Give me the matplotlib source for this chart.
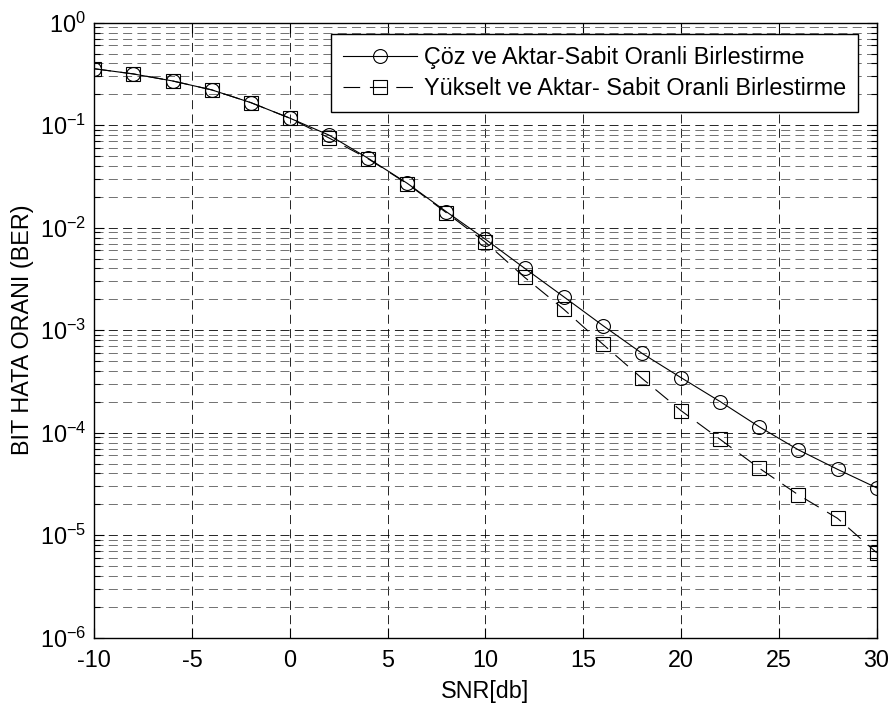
import numpy as np
import matplotlib
matplotlib.use("Agg")
import matplotlib.pyplot as plt
from matplotlib.ticker import FixedLocator, NullFormatter

# ---------------------------------------------------------
# data
snr_db = [-10, -8, -6, -4, -2, 0, 2, 4, 6, 8, 10,
          12, 14, 16, 18, 20, 22, 24, 26, 28, 30]
ber_df = [0.355, 0.316, 0.270, 0.221, 0.166, 0.117, 0.080, 0.0475, 0.0271, 0.0143, 0.0077,
          4.02e-3, 2.12e-3, 1.11e-3, 5.95e-4, 3.44e-4, 2.01e-4, 1.14e-4, 6.8e-5, 4.39e-5, 2.9e-5]
ber_af = [0.355, 0.316, 0.270, 0.221, 0.166, 0.117, 0.075, 0.0470, 0.0268, 0.0140, 0.0072,
          3.28e-3, 1.60e-3, 7.3e-4, 3.39e-4, 1.64e-4, 8.6e-5, 4.5e-5, 2.47e-5, 1.46e-5, 6.75e-6]
labels = ["Çöz ve Aktar-Sabit Oranli Birlestirme",
          "Yükselt ve Aktar- Sabit Oranli Birlestirme"]
x_ticks = [-10, -5, 0, 5, 10, 15, 20, 25, 30]
y_exps = [-6, -5, -4, -3, -2, -1, 0]

plt.rcParams['font.family'] = ['Liberation Sans', 'DejaVu Sans']
plt.rcParams['mathtext.fontset'] = 'custom'
plt.rcParams['mathtext.rm'] = 'Liberation Sans'
plt.rcParams['font.size'] = 16.8
plt.rcParams['lines.scale_dashes'] = False


def main():
    fig = plt.figure(figsize=(8.93, 7.08), dpi=100)
    ax = fig.add_axes([0.1056, 0.0993, 0.8761, 0.8687])

    ax.semilogy(snr_db, ber_df, color='black', linestyle='-', linewidth=0.8,
                marker='o', markersize=10, markerfacecolor='none',
                markeredgecolor='black', markeredgewidth=0.8, label=labels[0])
    ax.semilogy(snr_db, ber_af, color='black', linestyle=(0, (12, 7)), linewidth=0.8,
                marker='s', markersize=10, markerfacecolor='none',
                markeredgecolor='black', markeredgewidth=0.8, label=labels[1])

    ax.set_xlim(-10, 30)
    ax.set_ylim(1e-6, 1)
    ax.set_xticks(x_ticks)
    ax.set_xticklabels([str(t) for t in x_ticks])

    major = [10.0 ** e for e in y_exps]
    minor = [m * 10.0 ** e for e in y_exps[:-1] for m in range(2, 10)]
    ax.set_yticks(major)
    ax.set_yticklabels([r'$\mathregular{10^{%d}}$' % e for e in y_exps])
    ax.yaxis.set_minor_locator(FixedLocator(minor))
    ax.yaxis.set_minor_formatter(NullFormatter())

    ax.tick_params(which='both', direction='in', top=True, right=True)
    ax.tick_params(which='major', length=7, width=0.8, pad=6)
    ax.tick_params(which='minor', length=4, width=0.8)
    ax.tick_params(axis='x', pad=8)

    ax.grid(True, which='major', color='black', linestyle=(0, (6.5, 3.8)), linewidth=0.6)
    ax.grid(True, which='minor', axis='y', color='0.35', linestyle=(0, (6.5, 3.8)), linewidth=0.6)
    ax.set_axisbelow(True)
    for s in ax.spines.values():
        s.set_linewidth(1.0)

    ax.set_xlabel('SNR[db]', labelpad=6)
    ax.set_ylabel('BIT HATA ORANI (BER)', labelpad=4)

    leg = ax.legend(loc='upper right', bbox_to_anchor=(0.9765, 0.9811),
                    borderaxespad=0, fancybox=False, framealpha=1,
                    edgecolor='black', handlelength=3.2, handletextpad=0.3,
                    borderpad=0.5, labelspacing=0.35)
    leg.get_frame().set_linewidth(1.0)

    fig.savefig('out.png', dpi=100)


if __name__ == '__main__':
    main()
